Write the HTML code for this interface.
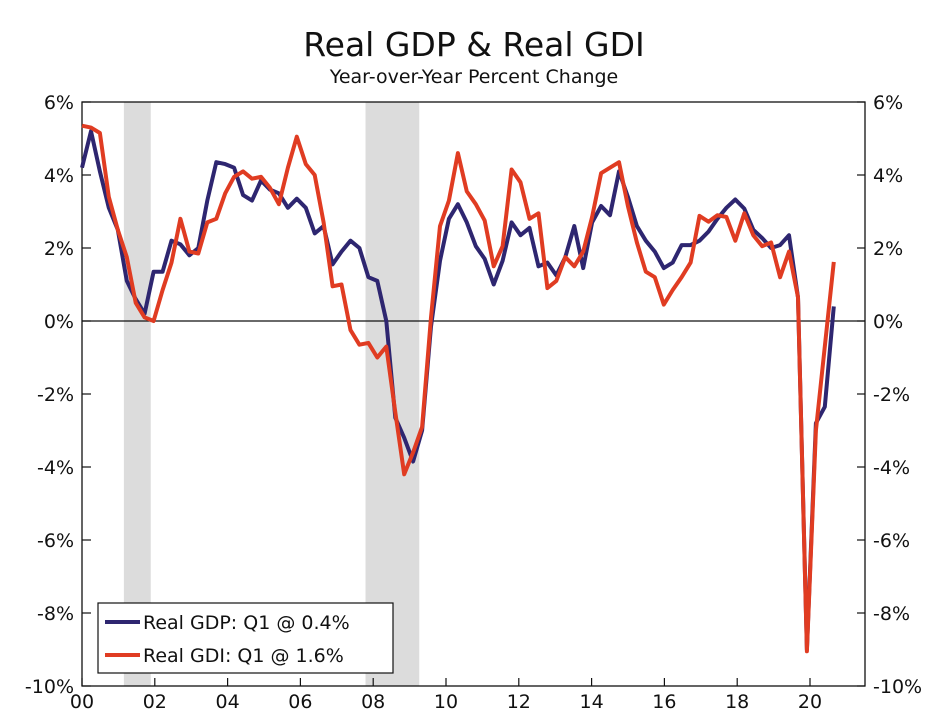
<!DOCTYPE html>
<html><head><meta charset="utf-8">
<style>
body{margin:0;background:#fff;}
svg{display:block;font-family:"DejaVu Sans","Liberation Sans",sans-serif;}
</style></head>
<body>
<svg id="chart" width="947" height="727" viewBox="0 0 947 727">
<rect x="0" y="0" width="947" height="727" fill="#fff"/>
<text x="474" y="56" text-anchor="middle" font-size="33" fill="#111">Real GDP &amp; Real GDI</text>
<text x="474" y="83" text-anchor="middle" font-size="19" fill="#111">Year-over-Year Percent Change</text>
<g id="shade"></g>
<g id="axes"></g>
<g id="series"></g>
<g id="legend">
 <rect x="98" y="603" width="295" height="70" fill="#fff" stroke="#111" stroke-width="1.2"/>
 <line x1="105" y1="622" x2="140" y2="622" stroke="#2e2670" stroke-width="4"/>
 <text x="143" y="629" font-size="19" fill="#111">Real GDP: Q1 @ 0.4%</text>
 <line x1="105" y1="655" x2="140" y2="655" stroke="#e03c22" stroke-width="4"/>
 <text x="143" y="662" font-size="19" fill="#111">Real GDI: Q1 @ 1.6%</text>
</g>
</svg>
<script>
const gdp=[4.2,5.2,4.1,3.1,2.5,1.1,0.6,0.2,1.35,1.35,2.2,2.1,1.8,2.0,3.3,4.35,4.3,4.2,3.45,3.3,3.85,3.6,3.5,3.1,3.35,3.1,2.4,2.6,1.55,1.9,2.2,2.0,1.2,1.1,0.0,-2.65,-3.2,-3.85,-3.0,-0.15,1.65,2.8,3.2,2.7,2.05,1.7,1.0,1.65,2.7,2.35,2.55,1.5,1.6,1.25,1.75,2.6,1.45,2.7,3.15,2.9,4.1,3.4,2.6,2.2,1.9,1.45,1.6,2.08,2.08,2.2,2.45,2.8,3.1,3.33,3.08,2.5,2.27,2.0,2.08,2.35,0.65,-9.0,-2.8,-2.35,0.4];
const gdi=[5.35,5.3,5.15,3.4,2.5,1.75,0.5,0.1,0.0,0.85,1.6,2.8,1.9,1.85,2.7,2.8,3.5,3.95,4.1,3.9,3.95,3.65,3.2,4.2,5.05,4.3,4.0,2.7,0.95,1.0,-0.25,-0.65,-0.6,-1.0,-0.7,-2.5,-4.2,-3.6,-2.9,0.1,2.6,3.3,4.6,3.55,3.2,2.75,1.5,2.05,4.15,3.8,2.8,2.95,0.9,1.1,1.75,1.5,1.9,2.85,4.05,4.2,4.35,3.15,2.15,1.35,1.2,0.45,0.85,1.2,1.6,2.88,2.72,2.9,2.85,2.2,2.95,2.35,2.05,2.15,1.2,1.9,0.65,-9.05,-3.0,-0.7,1.62];
const yTicks=[6,4,2,0,-2,-4,-6,-8,-10];
const xLabels=["00","02","04","06","08","10","12","14","16","18","20"];
const recessions=[[2001.17,2001.92],[2007.92,2009.42]];
const NS="http://www.w3.org/2000/svg";
const L=82,R=865,T=102,B=686;
const y=v=>T+(6-v)*(B-T)/16;
const xi=i=>L+i*8.95;
const xt=t=>L+(t-2000)*4*8.95;
function mk(tag,attrs,parent){const e=document.createElementNS(NS,tag);for(const k in attrs)e.setAttribute(k,attrs[k]);parent.appendChild(e);return e;}
const shade=document.getElementById('shade'),axes=document.getElementById('axes'),ser=document.getElementById('series');
recessions.forEach((r,k)=>{const e=mk('rect',{x:xt(r[0]),y:T,width:xt(r[1])-xt(r[0]),height:B-T,fill:'#dcdcdc'},shade);

});
const fr=mk('rect',{x:L,y:T,width:R-L,height:B-T,fill:'none',stroke:'#111','stroke-width':1.3},axes);


const z=mk('line',{x1:L,x2:R,y1:y(0),y2:y(0),stroke:'#111','stroke-width':1.3},axes);


yTicks.forEach(v=>{
 mk('line',{x1:L,x2:L+9,y1:y(v),y2:y(v),stroke:'#111','stroke-width':1.2},axes);
 mk('line',{x1:R-8,x2:R,y1:y(v),y2:y(v),stroke:'#111','stroke-width':1.2},axes);
 const a=mk('text',{x:L-8,y:y(v)+7,'text-anchor':'end','font-size':19,fill:'#111'},axes);a.textContent=v+'%';
 
 
 const b=mk('text',{x:R+8,y:y(v)+7,'text-anchor':'start','font-size':19,fill:'#111'},axes);b.textContent=v+'%';
 
 
});
xLabels.forEach((s,k)=>{const px=L+k*72.8;
 mk('line',{x1:px,x2:px,y1:B-8,y2:B,stroke:'#111','stroke-width':1.2},axes);
 const t=mk('text',{x:px,y:B+22,'text-anchor':'middle','font-size':19,fill:'#111'},axes);t.textContent=s;
 
 
});
function line(arr,color,name){const p=mk('polyline',{points:arr.map((v,i)=>xi(i).toFixed(1)+','+y(v).toFixed(1)).join(' '),fill:'none',stroke:color,'stroke-width':4,'stroke-linejoin':'round'},ser);
 
 }
line(gdp,'#2e2670','gdp-line');
line(gdi,'#e03c22','gdi-line');
</script>
</body></html>
